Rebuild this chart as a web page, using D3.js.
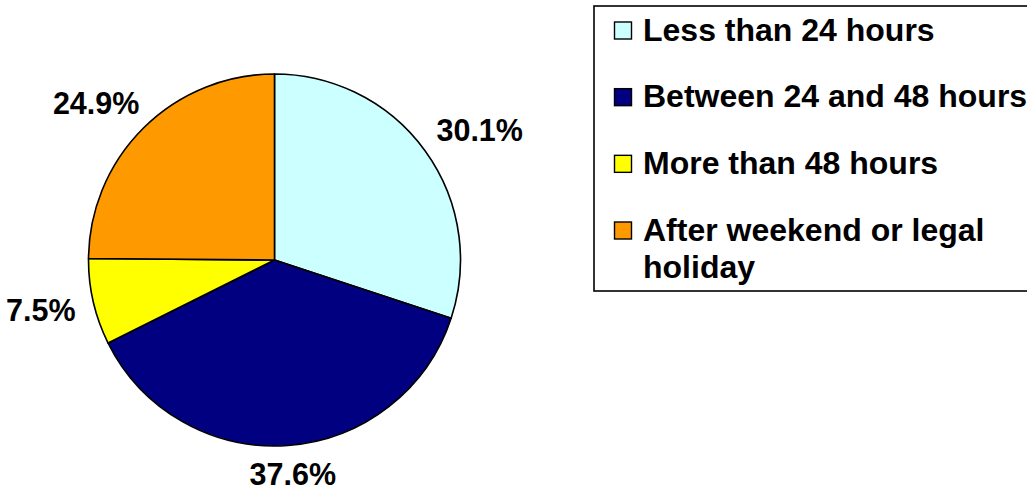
<!DOCTYPE html>
<html>
<head>
<meta charset="utf-8">
<script src="https://cdn.jsdelivr.net/npm/d3@7"></script>
<style>
  body { margin: 0; background: #fff; }
  text { font-family: "Liberation Sans", Arial, sans-serif; font-weight: bold; fill: #000; }
</style>
</head>
<body>
<div id="chart"></div>
<script>
      // chart data
      var categories = ["Less than 24 hours", "Between 24 and 48 hours", "More than 48 hours", "After weekend or legal holiday"];
      var shares = [30.1, 37.6, 7.5, 24.9];
      var shareLabels = ["30.1%", "37.6%", "7.5%", "24.9%"];
      // legend lines (last entry wraps)
      var legendLines = [["Less than 24 hours"], ["Between 24 and 48 hours"], ["More than 48 hours"], ["After weekend or legal", "holiday"]];
      var colours = ["#CCFFFF", "#000080", "#FFFF00", "#FF9900"];

      var width = 1027, height = 494;
      var cx = 274.5, cy = 260, radius = 186;

      var svg = d3
        .select("#chart")
        .append("svg")
        .attr("width", width)
        .attr("height", height)
      ;

      var pie = d3.pie().sort(null).value(function(d) { return d; });
      var arc = d3.arc().innerRadius(0).outerRadius(radius);
      var arcs = pie(shares);

      var pieGroup = svg.append("g").attr("transform", "translate(" + cx + "," + cy + ")");

      // slices
      pieGroup
        .selectAll("path")
        .data(arcs)
        .enter()
        .append("path")
        .attr("d", arc)
        .attr("fill", function(d, i) { return colours[i]; })
        .attr("stroke", "#000")
        .attr("stroke-width", 1.6)
        .attr("stroke-linejoin", "round")
      ;

      // percentage labels outside the pie, kept inside the picture
      var labelSize = 30.5;
      var pad = 24;
      pieGroup
        .selectAll("text.pct")
        .data(arcs)
        .enter()
        .append("text")
        .attr("class", "pct")
        .attr("text-anchor", "middle")
        .attr("font-size", labelSize)
        .text(function(d, i) { return shareLabels[i]; })
        .each(function(d) {
          var bb = this.getBBox();
          var a = (d.startAngle + d.endAngle) / 2;
          var ux = Math.sin(a), uy = -Math.cos(a);
          var hw = bb.width / 2, hh = labelSize * 0.36;
          var x = ux * (radius + pad + hw);
          var y = uy * (radius + pad) + uy * hh;
          // clamp to the drawing area
          x = Math.max(x, -cx + hw + 6);
          y = Math.min(y, height - cy - hh - 9);
          d3.select(this).attr("x", x).attr("y", y + labelSize * 0.36);
        })
      ;

      // legend
      var legendSize = 32;
      var legend = svg.append("g");
      legend
        .append("rect")
        .attr("x", 594)
        .attr("y", 6)
        .attr("width", 520)
        .attr("height", 285)
        .attr("fill", "#fff")
        .attr("stroke", "#000")
        .attr("stroke-width", 1.6)
      ;

      var rowY = d3.scaleLinear().domain([0, 3]).range([40.5, 240.5]);

      var rows = legend
        .selectAll("g.row")
        .data(categories)
        .enter()
        .append("g")
        .attr("class", "row")
        .attr("transform", function(d, i) { return "translate(0," + rowY(i) + ")"; })
      ;

      rows
        .append("rect")
        .attr("x", 614.5)
        .attr("y", -18.5)
        .attr("width", 17)
        .attr("height", 17)
        .attr("fill", function(d, i) { return colours[i]; })
        .attr("stroke", "#000")
        .attr("stroke-width", 1.4)
      ;

      rows
        .append("text")
        .attr("font-size", legendSize)
        .each(function(d, i) {
          var t = d3.select(this);
          legendLines[i].forEach(function(line, j) {
            t.append("tspan")
              .attr("x", 643)
              .attr("y", j * 37)
              .text(line);
          });
        })
      ;
</script>
</body>
</html>
